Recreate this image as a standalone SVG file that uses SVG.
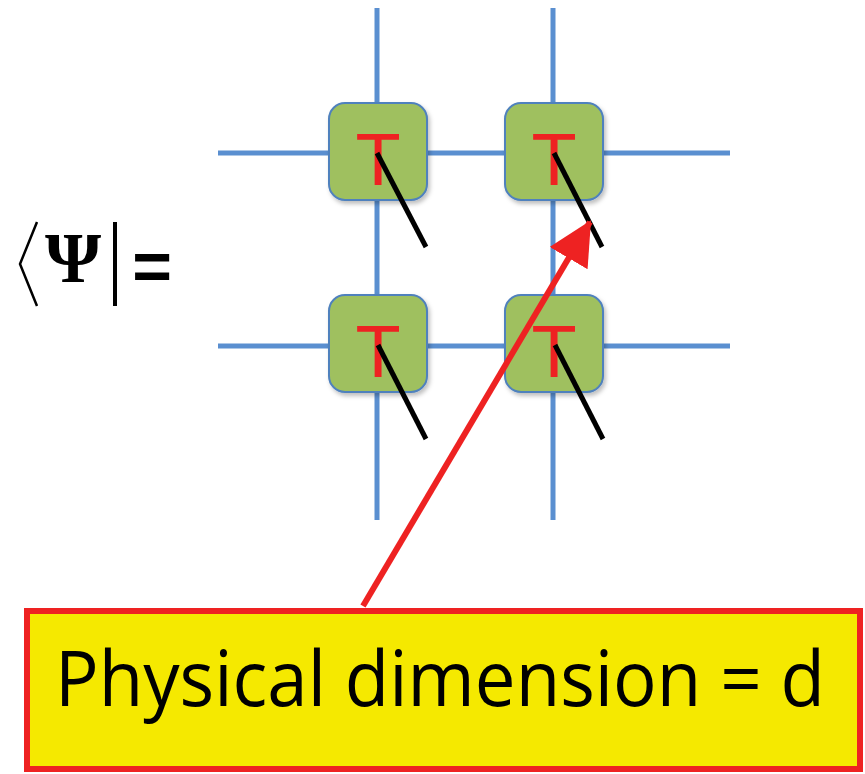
<svg xmlns="http://www.w3.org/2000/svg" width="865" height="774" viewBox="0 0 865 774">
<style>
.grid{stroke:#5a8fd0;stroke-width:5;fill:none}
.leg{stroke:#000;stroke-width:5;stroke-linecap:butt}
.box{fill:#9fc05e;stroke:#4f81bd;stroke-width:2}
.t{font-family:"Liberation Sans",Arial,sans-serif;font-size:74px;fill:#ee2222;text-anchor:middle}
</style>
<defs>
<filter id="sh" x="-20%" y="-20%" width="140%" height="140%">
<feDropShadow dx="2" dy="3" stdDeviation="2" flood-color="#000" flood-opacity="0.25"/>
</filter>
<marker id="ah" markerUnits="userSpaceOnUse" markerWidth="46" markerHeight="46" refX="42" refY="22" orient="auto">
<polygon points="0,0 44,22 0,44" fill="#ee2222"/>
</marker>
</defs>
<g id="connectors">
<line class="grid" x1="377" y1="8" x2="377" y2="520"/>
<line class="grid" x1="553" y1="8" x2="553" y2="520"/>
<line class="grid" x1="218" y1="153" x2="730" y2="153"/>
<line class="grid" x1="218" y1="346" x2="730" y2="346"/>
</g>
<g id="T11"><rect class="box" x="329" y="103" width="98" height="97" rx="16" filter="url(#sh)"/><text class="t" x="378" y="185">T</text></g>
<g id="T12"><rect class="box" x="505" y="103" width="98" height="97" rx="16" filter="url(#sh)"/><text class="t" x="554" y="185">T</text></g>
<g id="T21"><rect class="box" x="329" y="295" width="98" height="97" rx="16" filter="url(#sh)"/><text class="t" x="378" y="377">T</text></g>
<g id="T22"><rect class="box" x="505" y="295" width="98" height="97" rx="16" filter="url(#sh)"/><text class="t" x="554" y="377">T</text></g>
<g id="legs">
<line class="leg" x1="377" y1="153" x2="426" y2="247"/>
<line class="leg" x1="554" y1="153" x2="602" y2="247"/>
<line class="leg" x1="378" y1="345" x2="426" y2="439"/>
<line class="leg" x1="555" y1="345" x2="603" y2="439"/>
</g>
<g id="bra">
<polyline points="37,222 20,264 37,306" fill="none" stroke="#000" stroke-width="2.5"/>
<text x="73" y="282" font-family="Liberation Serif,serif" font-weight="bold" font-size="72" text-anchor="middle">Ψ</text>
<line x1="115" y1="222" x2="115" y2="306" stroke="#000" stroke-width="4"/>
<text x="152" y="290" font-family="Liberation Sans,Arial,sans-serif" font-weight="bold" font-size="68" text-anchor="middle">=</text>
</g>
<g id="label">
<rect x="27" y="611" width="833" height="158" fill="#f5e900" stroke="#ee2222" stroke-width="6"/>
<text x="55" y="706" font-family="Open Sans,sans-serif" font-size="76" textLength="770" lengthAdjust="spacingAndGlyphs">Physical dimension = d</text>
</g>
<g id="arrow">
<line x1="363" y1="606" x2="590" y2="222" stroke="#ee2222" stroke-width="6" marker-end="url(#ah)"/>
</g>
</svg>
